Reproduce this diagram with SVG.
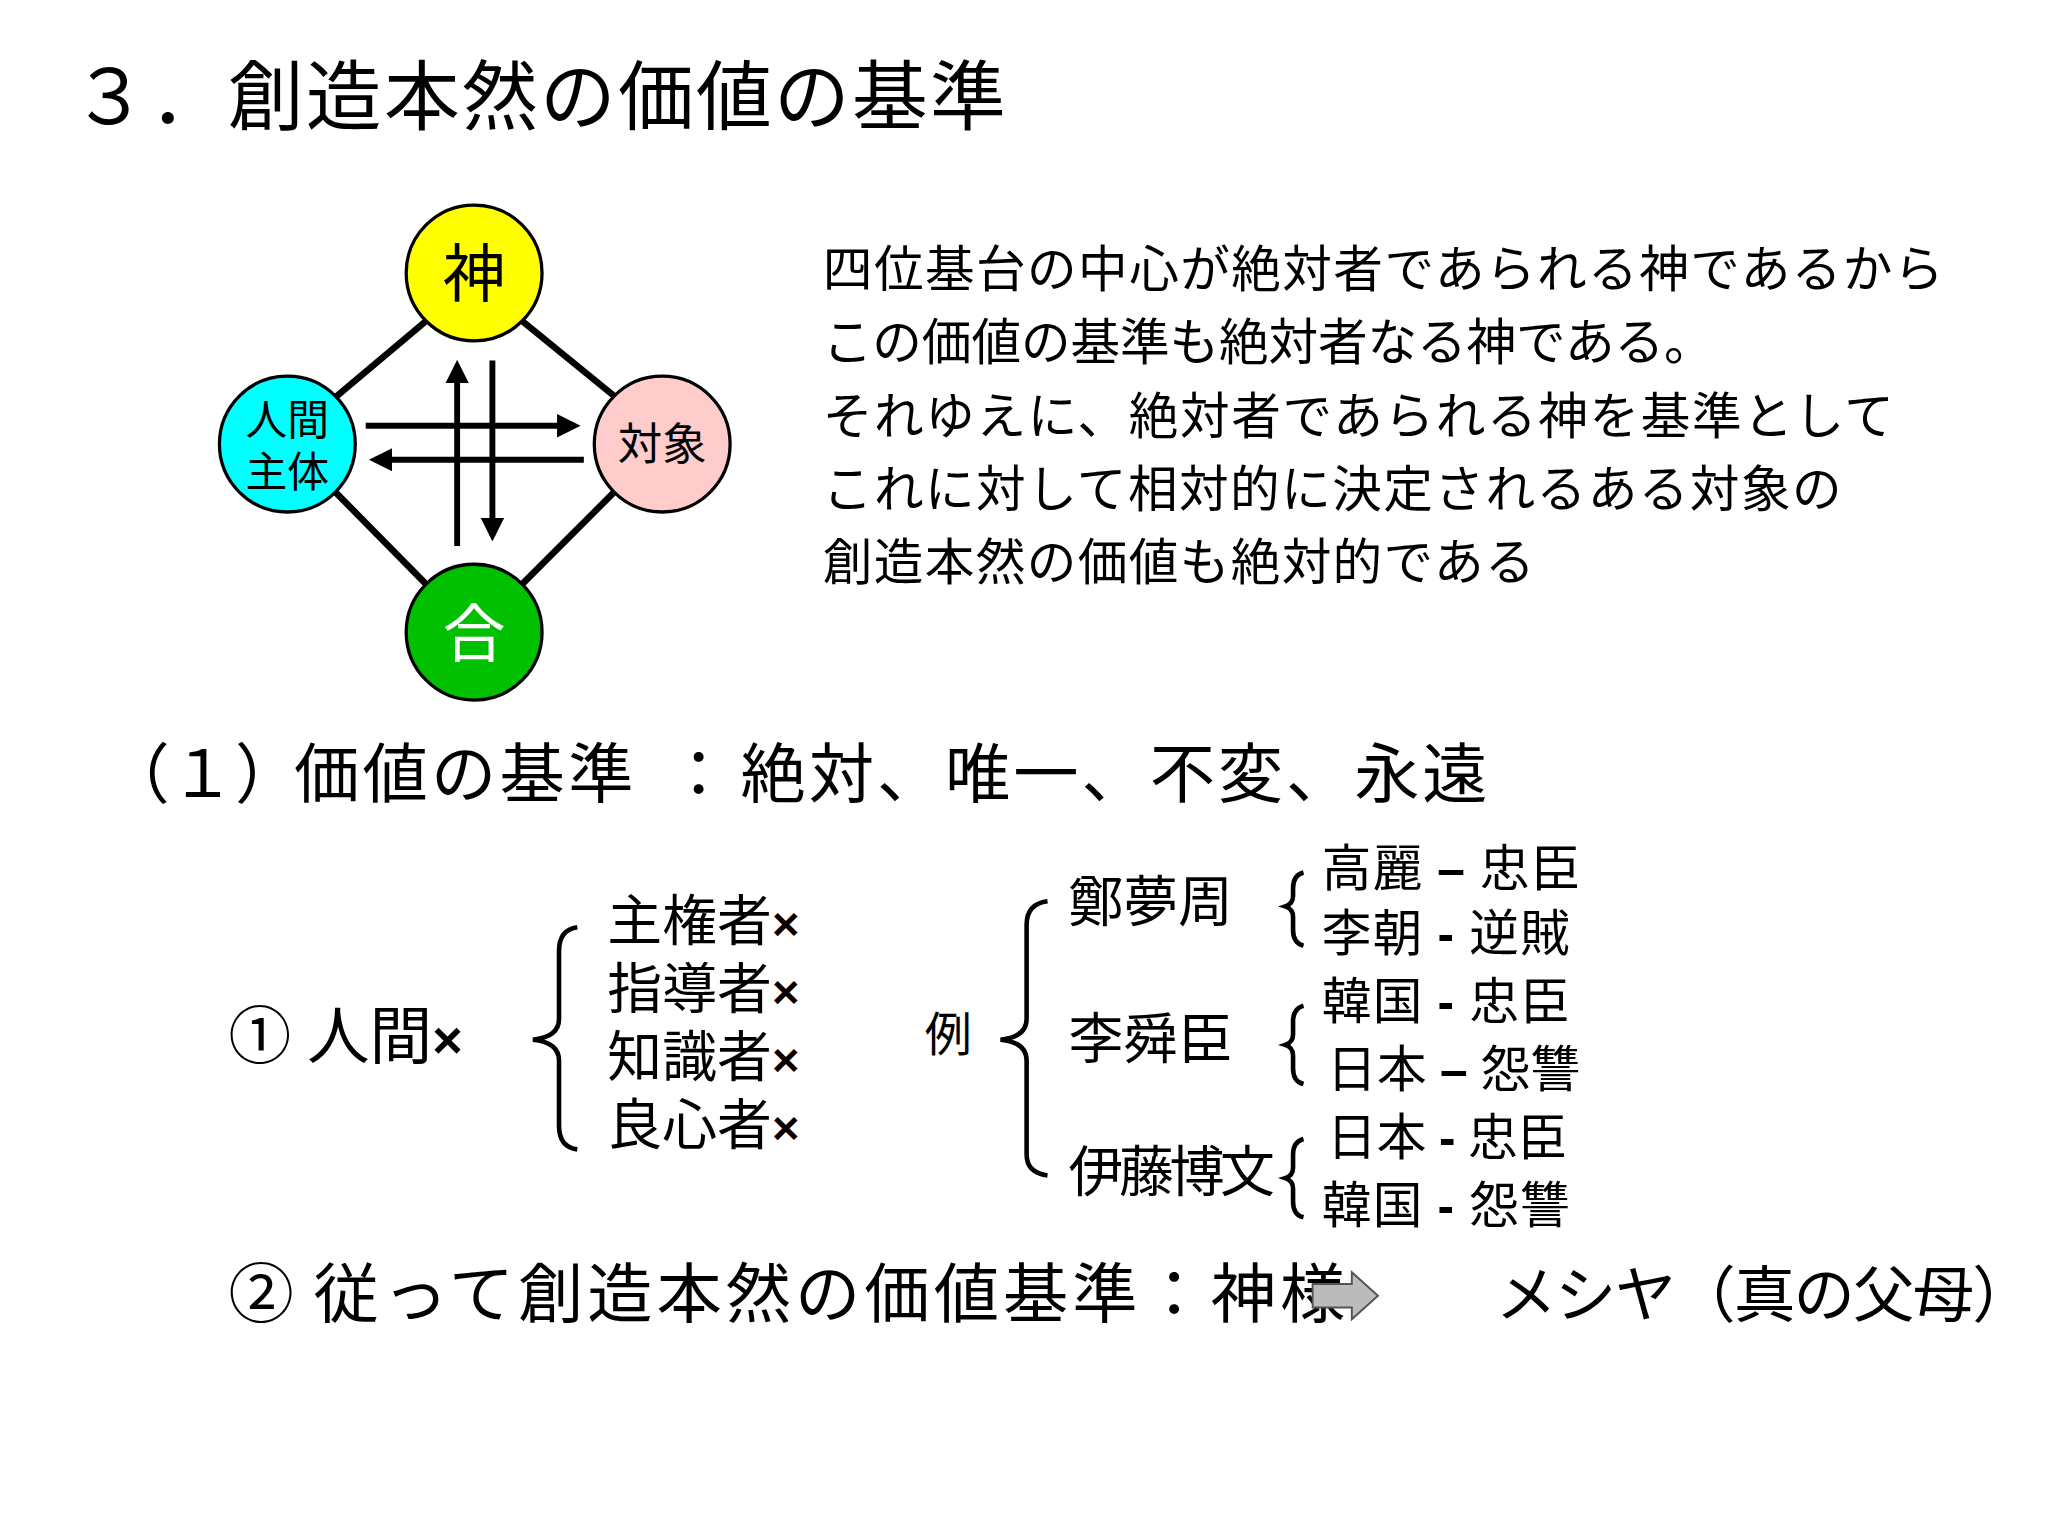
<svg xmlns="http://www.w3.org/2000/svg" width="2048" height="1536" viewBox="0 0 2048 1536">
<style>
text{font-family:"Liberation Serif","Noto Sans CJK JP",serif;fill:#000}
.e{stroke:#000;stroke-width:5;fill:none}
.a{stroke:#000;stroke-width:4.5;fill:none;marker-end:url(#ah)}
.n{stroke:#000;stroke-width:2.5}
.br{stroke:#000;stroke-width:3.5;fill:none}
.x{font-family:"Liberation Sans",sans-serif;font-weight:bold}
</style>
<defs><marker id="ah" markerWidth="4" markerHeight="4" refX="3" refY="2" orient="auto"><path d="M0,0 L4,2 L0,4Z" fill="#000"/></marker></defs>
<rect width="2048" height="1536" fill="#fff"/>
<g transform="scale(1.30612)">
<text x="55" y="95" font-size="58" textLength="715">３．創造本然の価値の基準</text>
<g id="connectors">
<line class="e" x1="326" y1="246" x2="257" y2="304"/>
<line class="e" x1="400" y1="246" x2="470" y2="303"/>
<line class="e" x1="257" y1="377" x2="326" y2="447"/>
<line class="e" x1="470" y1="377" x2="400" y2="447"/>
<line class="a" x1="350" y1="418" x2="350" y2="280"/>
<line class="a" x1="377" y1="276" x2="377" y2="410"/>
<line class="a" x1="280" y1="326" x2="440" y2="326"/>
<line class="a" x1="447" y1="352" x2="287" y2="352"/>
</g>
<g id="kami"><circle class="n" cx="363" cy="209" r="52" fill="#ffff00"/><text x="363" y="227" font-size="48" text-anchor="middle">神</text></g>
<g id="ningen"><circle class="n" cx="220" cy="340" r="52" fill="#00ffff"/><text x="220" y="333" font-size="32" text-anchor="middle">人間</text><text x="220" y="373" font-size="32" text-anchor="middle">主体</text></g>
<g id="taisho"><circle class="n" cx="507" cy="340" r="52" fill="#ffcccc"/><text x="507" y="352" font-size="34" text-anchor="middle">対象</text></g>
<g id="go"><circle class="n" cx="363" cy="484" r="52" fill="#00c000"/><text x="363" y="502" font-size="48" text-anchor="middle" style="fill:#fff">合</text></g>
<g font-size="38">
<text x="630" y="220" textLength="858">四位基台の中心が絶対者であられる神であるから</text>
<text x="630" y="276" textLength="682">この価値の基準も絶対者なる神である。</text>
<text x="630" y="332" textLength="820">それゆえに、絶対者であられる神を基準として</text>
<text x="630" y="388" textLength="780">これに対して相対的に決定されるある対象の</text>
<text x="630" y="444" textLength="545">創造本然の価値も絶対的である</text>
</g>
<g font-size="50">
<text x="80" y="610">（１）</text><text x="225" y="610" textLength="260">価値の基準</text><text x="510" y="610">：</text><text x="567" y="610" textLength="572">絶対、唯一、不変、永遠</text>
</g>
<text x="175" y="810" font-size="48">① 人間<tspan class="x" font-size="40">×</tspan></text>
<path class="br" d="M442,710 Q428,712 428,728 L428,780 Q428,794 408,796 Q428,798 428,812 L428,862 Q428,878 442,880"/>
<g font-size="42">
<text x="465" y="720">主権者<tspan class="x" font-size="36">×</tspan></text>
<text x="465" y="772">指導者<tspan class="x" font-size="36">×</tspan></text>
<text x="465" y="824">知識者<tspan class="x" font-size="36">×</tspan></text>
<text x="465" y="876">良心者<tspan class="x" font-size="36">×</tspan></text>
</g>
<text x="708" y="805" font-size="36">例</text>
<path class="br" d="M802,690 Q786,692 786,708 L786,780 Q786,794 766,796 Q786,798 786,812 L786,884 Q786,898 802,900"/>
<g font-size="42">
<text x="818" y="705">鄭夢周</text><text x="818" y="810">李舜臣</text><text x="818" y="912" textLength="158">伊藤博文</text>
</g>
<path class="br" d="M998,668 Q990,670 990,680 L990,686 Q990,692 984,694 Q990,696 990,702 L990,712 Q990,722 998,724"/>
<path class="br" d="M998,770 Q990,772 990,782 L990,792 Q990,798 984,800 Q990,802 990,808 L990,818 Q990,828 998,830"/>
<path class="br" d="M998,872 Q990,874 990,884 L990,894 Q990,900 984,902 Q990,904 990,910 L990,920 Q990,930 998,932"/>
<g font-size="38">
<text x="1012" y="678" textLength="198">高麗 <tspan class="x">–</tspan> 忠臣</text>
<text x="1012" y="728" textLength="190">李朝 <tspan class="x">-</tspan> 逆賊</text>
<text x="1012" y="780" textLength="190">韓国 <tspan class="x">-</tspan> 忠臣</text>
<text x="1016" y="832" textLength="194">日本 <tspan class="x">–</tspan> 怨讐</text>
<text x="1016" y="884" textLength="184">日本 <tspan class="x">-</tspan> 忠臣</text>
<text x="1012" y="936" textLength="190">韓国 <tspan class="x">-</tspan> 怨讐</text>
</g>
<text x="175" y="1008" font-size="50"><tspan>②</tspan><tspan x="240" textLength="790">従って創造本然の価値基準：神様</tspan></text>
<path d="M1005,983 L1035,983 L1035,974 L1055,992 L1035,1010 L1035,1001 L1005,1001Z" fill="#bbb" stroke="#555" stroke-width="1.5"/>
<text x="1145" y="1008" font-size="47" textLength="412">メシヤ（真の父母）</text>
</g>
</svg>
